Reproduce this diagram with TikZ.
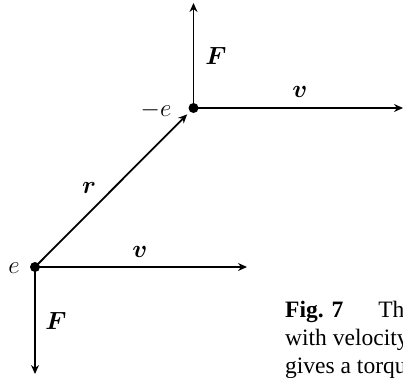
\documentclass[tikz,border=0pt]{standalone}
\usepackage{amsmath}
\usepackage{fontspec}
\newfontfamily\capfont{Liberation Serif}
\usetikzlibrary{arrows.meta}
\tikzset{
  vec/.style={line width=1.8pt,-{Stealth[length=9pt,width=8pt,inset=3pt]}},
  dotpt/.style={circle,fill=black,inner sep=0pt,minimum size=10pt},
  lab/.style={inner sep=0pt,font=\fontsize{24}{28}\selectfont},
  captxt/.style={inner sep=0pt,anchor=base west,font=\capfont\fontsize{23.5}{28}\selectfont}
}
\begin{document}
\begin{tikzpicture}[x=1pt,y=-1pt]
\useasboundingbox (0,0) rectangle (403,377);
\clip (0,0) rectangle (403,377);
% points
\coordinate (A) at (35,267);
\coordinate (B) at (193.5,108);
\coordinate (Ftop) at (193.5,3);
\coordinate (vtop) at (403,108);
\coordinate (vbot) at (247,267);
\coordinate (Fbot) at (35,374);
% vectors
\draw[vec] (B) -- (Ftop);
\draw[vec] (B) -- (vtop);
\draw[vec] (A) -- (vbot);
\draw[vec] (A) -- (Fbot);
\draw[vec,shorten >=9pt] (A) -- (B);
\node[dotpt] (dA) at (A) {};
\node[dotpt] (dB) at (B) {};
% labels
\node[lab] (lFt) at (216,56) {$\boldsymbol{F}$};
\node[lab] (lvt) at (300,92) {$\boldsymbol{v}$};
\node[lab] (lme) at (156,110) {$-e$};
\node[lab] (le) at (14,268) {$e$};
\node[lab] (lr) at (89,188) {$\boldsymbol{r}$};
\node[lab] (lvb) at (140,252) {$\boldsymbol{v}$};
\node[lab] (lFb) at (56,321) {$\boldsymbol{F}$};
% caption (cut at the right edge)
\node[captxt] (c1) at (285,317) {\textbf{Fig. 7}\hspace{35pt}The};
\node[captxt] (c2) at (285,345) {with velocity};
\node[captxt] (c3) at (285,373) {gives a torque};
\end{tikzpicture}
\end{document}
